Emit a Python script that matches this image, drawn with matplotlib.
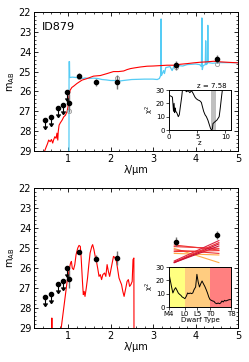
import numpy as np
import matplotlib
matplotlib.use("Agg")
import matplotlib.pyplot as plt

# ---- observed photometry ----
det_wl = [1.02, 1.25, 1.65, 2.15, 3.55, 4.50]
det_mag = [26.57, 25.20, 25.53, 25.52, 24.68, 24.37]
det_err = [0.45, 0.12, 0.18, 0.35, 0.22, 0.20]
ul_wl = [0.45, 0.61, 0.76, 0.88, 0.97]
ul_mag = [27.45, 27.30, 26.82, 26.67, 26.02]
ul_len = 0.45
mod_wl = [1.02, 1.25, 2.15, 3.55, 4.50]
mod_mag = [27.00, 25.28, 25.30, 24.78, 24.62]

# ---- galaxy SEDs (top panel) ----
blue_wl = [1.00, 1.02, 1.025, 1.035, 1.04, 1.10, 1.20, 1.30, 1.35, 1.40, 1.50, 1.60, 1.70, 1.80,
           1.90, 2.00, 2.10, 2.20, 2.30, 2.50, 2.80, 3.00, 3.10, 3.15, 3.18, 3.19, 3.20, 3.25,
           3.27, 3.30, 3.40, 3.45, 3.50, 3.60, 3.70, 3.80, 4.00, 4.10, 4.14, 4.15, 4.16, 4.18,
           4.23, 4.24, 4.25, 4.28, 4.29, 4.30, 4.40, 4.60, 4.80, 5.00]
blue_mag = [35.0, 35.0, 24.50, 24.50, 25.30, 25.28, 25.30, 25.30, 25.35, 25.32, 25.35, 25.33, 25.35, 25.40,
            25.42, 25.45, 25.45, 25.48, 25.45, 25.40, 25.38, 25.38, 25.40, 25.35, 25.20, 22.35, 25.20, 24.95,
            25.10, 24.80, 24.75, 24.95, 24.70, 24.70, 24.72, 24.65, 24.62, 24.65, 24.75, 22.30, 24.90, 24.70,
            24.65, 23.45, 24.65, 24.60, 22.67, 24.55, 24.58, 24.55, 24.55, 24.55]
red_wl = [0.45, 0.49, 0.52, 0.545, 0.58, 0.61, 0.64, 0.66, 0.69, 0.72, 0.74, 0.76, 0.77, 0.79, 0.82,
          0.86, 0.90, 0.94, 0.98, 1.00, 1.02, 1.05, 1.09, 1.13, 1.21, 1.33, 1.45, 1.60, 1.76, 1.92,
          2.07, 2.19, 2.31, 2.39, 2.47, 2.55, 2.70, 2.86, 3.00, 3.17, 3.33, 3.49, 3.65, 3.80, 3.96,
          4.11, 4.27, 4.43, 4.58, 4.74, 5.00]
red_mag = [29.0, 28.78, 28.62, 28.45, 28.53, 28.42, 28.60, 28.45, 28.28, 28.36, 28.10, 28.45, 28.03, 27.70, 27.58,
           27.45, 27.28, 27.20, 27.00, 26.77, 26.27, 25.94, 25.80, 25.74, 25.60, 25.43, 25.35, 25.23, 25.20, 25.10,
           25.00, 25.00, 24.97, 24.90, 24.85, 24.82, 24.77, 24.73, 24.72, 24.70, 24.68, 24.68, 24.63, 24.60, 24.56,
           24.53, 24.51, 24.48, 24.51, 24.53, 24.56]

# ---- brown dwarf template (bottom panel) ----
bd_wl = [0.61, 0.62, 0.63, np.nan,
         0.84, 0.90, 0.94, 0.98, 1.02, 1.06, 1.08, 1.10, 1.13, 1.16, 1.19, 1.23, 1.26, 1.29, 1.31,
         1.34, 1.36, 1.38, 1.40, 1.43, 1.46, 1.49, 1.52, 1.56, 1.58, 1.61, 1.64, 1.67, 1.70, 1.73,
         1.76, 1.79, 1.82, 1.86, 1.89, 1.92, 1.95, 1.98, 2.01, 2.04, 2.07, 2.10, 2.14, 2.17, 2.20,
         2.23, 2.26, 2.29, 2.32, 2.36, 2.39, 2.42, 2.45, 2.48, 2.51, 2.53, 2.55, 2.56]
bd_mag = [40.0, 28.5, 40.0, np.nan,
          29.0, 28.0, 27.33, 26.67, 26.17, 25.75, 25.67, 26.0, 26.08, 25.83, 25.33, 25.0, 24.87, 24.92, 25.5,
          26.67, 27.33, 27.17, 27.42, 27.0, 26.5, 25.83, 25.25, 24.92, 24.83, 25.08, 25.42, 25.67, 26.03, 26.42,
          26.33, 26.58, 26.33, 26.25, 26.42, 25.83, 26.17, 26.42, 26.08, 25.75, 25.42, 25.47, 25.67, 26.08, 26.5,
          26.67, 26.83, 27.17, 27.42, 27.0, 26.67, 26.58, 26.92, 26.83, 26.67, 25.58, 25.5, 40.0]

# ---- brown dwarf IRAC colour lines ----
line_mag1 = [24.85, 24.93, 25.02, 25.10, 25.27, 25.65, 25.70, 25.73, 25.73, 25.18]
line_mag2 = [25.10, 25.02, 25.73, 25.27, 25.35, 24.63, 24.73, 24.80, 24.90, 25.13]
line_col = ['#ee3333', '#ee3333', '#ffaa44', '#ee3333', '#ffaa44',
            '#dd2244', '#ee3333', '#cc1133', '#cc1133', '#ee3333']
irac_wl = [3.50, 4.55]

# ---- chi2 vs redshift ----
chi_z = [0.0, 0.3, 0.6, 0.7, 0.8, 0.9, 1.0, 1.1, 1.2, 1.4, 1.65, 1.83, 2.0, 2.25, 2.4, 2.8, 3.07, 3.4,
         3.7, 4.0, 4.3, 4.6, 4.85, 5.15, 5.44, 5.74, 5.9, 6.15, 6.4, 6.63, 6.9, 7.2, 7.4, 7.58, 7.7,
         7.8, 8.1, 8.5, 8.9, 9.1, 9.35, 9.5]
chi_val = [26.0, 25.5, 24.7, 19.4, 14.0, 20.0, 13.0, 16.5, 14.0, 12.8, 10.0, 11.5, 17.0, 24.7, 30.5, 31.0,
           28.7, 29.5, 28.0, 29.5, 27.3, 24.7, 23.4, 22.5, 22.0, 20.7, 18.0, 14.0, 11.4, 10.0, 7.4, 3.4,
           0.8, 0.2, 0.8, 4.8, 6.0, 7.4, 10.0, 16.6, 26.0, 31.0]
z_best = 7.58
z_band = [7.45, 8.40]

# ---- chi2 vs dwarf type ----
dw_idx = [0, 0.5, 1.0, 1.5, 2.05, 2.56, 3.1, 3.6, 4.1, 4.6, 5.1, 5.6, 6.15, 6.7, 7.2, 7.7, 8.2, 8.7,
          9.2, 9.7, 10.3, 10.8, 11.3, 11.8, 12.3, 12.8, 13.3, 13.85, 14.4, 14.9, 15.4, 15.9, 16.4,
          16.9, 17.4, 17.9, 18.5, 19.0, 19.5, 20.0, 20.5, 21.0, 21.5, 22.0, 22.6, 23.3, 24.0]
dw_chi = [25.0, 20.0, 15.0, 10.5, 13.0, 14.5, 12.5, 10.5, 9.5, 8.75, 7.5, 7.0, 6.25, 8.0, 10.5, 10.0,
          10.5, 10.0, 10.5, 13.0, 15.0, 24.5, 18.75, 15.0, 17.5, 19.5, 17.5, 15.5, 13.0, 10.5, 7.5,
          5.5, 5.0, 4.5, 4.25, 3.0, 2.5, 3.0, 2.5, 3.0, 4.5, 3.75, 5.0, 4.5, 5.0, 5.5, 5.5]
dw_ticks = [0, 6, 11, 16, 24]
dw_labels = ['M4', 'L0', 'L5', 'T0', 'T8']
dw_regions = [(0, 6, '#ffff80'), (6, 16, '#ffcc80'), (16, 24, '#ff8080')]

BLUE = '#55ccf5'
plt.rcParams['font.family'] = 'DejaVu Sans'

fig = plt.figure(figsize=(2.49, 3.62), dpi=100)
W, H = 249.0, 362.0


def fa(x0, y0, x1, y1):
    return [x0 / W, 1 - y1 / H, (x1 - x0) / W, (y1 - y0) / H]


def style_main(ax):
    ax.set_xlim(0.2, 5.0)
    ax.set_ylim(29, 22)
    ax.set_xticks([1, 2, 3, 4, 5])
    ax.set_yticks(range(22, 30))
    ax.xaxis.set_minor_locator(matplotlib.ticker.MultipleLocator(0.2))
    ax.yaxis.set_minor_locator(matplotlib.ticker.MultipleLocator(0.2))
    ax.tick_params(which='both', direction='in', top=True, right=True, labelsize=7, pad=2)
    ax.tick_params(which='major', length=3, width=0.6)
    ax.tick_params(which='minor', length=1.5, width=0.5)
    ax.set_xlabel('λ/µm', fontsize=7, labelpad=1)
    ax.set_ylabel('m$_{\\mathrm{AB}}$', fontsize=7, labelpad=1)
    for s in ax.spines.values():
        s.set_linewidth(0.7)


def draw_phot(ax, model=True):
    ul_end = [m + ul_len for m in ul_mag]
    ax.vlines(ul_wl, ul_mag, ul_end, color='k', lw=0.8, zorder=5)
    ax.plot(ul_wl, ul_end, linestyle='none', marker=7, color='k', ms=3, zorder=5)
    ax.plot(ul_wl, ul_mag, 'o', color='k', ms=3, zorder=6)
    ax.errorbar(det_wl, det_mag, yerr=det_err, fmt='o', color='k', ecolor='0.45',
                ms=3, lw=1.0, capsize=0, zorder=5)
    if model:
        ax.plot(mod_wl, mod_mag, 'o', mfc='none', mec='0.6', ms=3, mew=0.6, zorder=4)


# top panel
ax1 = fig.add_axes(fa(34, 12, 238, 151))
ax1.plot(blue_wl, blue_mag, color=BLUE, lw=0.9, zorder=2)
ax1.plot(red_wl, red_mag, color='red', lw=0.8, zorder=3)
draw_phot(ax1)
style_main(ax1)
ax1.text(0.04, 0.93, 'ID879', transform=ax1.transAxes, fontsize=8, va='top', ha='left')

# top inset
ai = fig.add_axes(fa(169, 90, 231, 130))
ai.axvspan(z_band[0], z_band[1], color='0.75', lw=0)
ai.plot(chi_z, chi_val, color='k', lw=0.7)
ai.set_xlim(0, 11)
ai.set_ylim(0, 30)
ai.set_xticks([0, 5, 10])
ai.set_yticks([0, 10, 20, 30])
ai.tick_params(labelsize=5, length=2, pad=1, width=0.5)
ai.set_xlabel('z', fontsize=5, labelpad=0)
ai.set_ylabel('χ$^2$', fontsize=5, labelpad=0)
ai.text(z_best, 30.5, 'z = %.2f' % z_best, fontsize=5, ha='center', va='bottom')
for s in ai.spines.values():
    s.set_linewidth(0.7)

# bottom panel
ax2 = fig.add_axes(fa(34, 188, 238, 328))
ax2.plot(bd_wl, bd_mag, color='red', lw=0.8, zorder=3)
for m1, m2, c in zip(line_mag1, line_mag2, line_col):
    ax2.plot(irac_wl, [m1, m2], color=c, lw=0.8, zorder=2)
draw_phot(ax2, model=False)
style_main(ax2)

# bottom inset
bi = fig.add_axes(fa(169, 267, 231, 307))
for a, b, c in dw_regions:
    bi.axvspan(a, b, color=c, lw=0)
bi.plot(dw_idx, dw_chi, color='k', lw=0.7)
bi.set_xlim(0, 24)
bi.set_ylim(0, 30)
bi.set_xticks(dw_ticks)
bi.set_xticklabels(dw_labels)
bi.set_yticks([0, 10, 20, 30])
bi.tick_params(labelsize=5, length=2, pad=1, width=0.5)
bi.set_xlabel('Dwarf Type', fontsize=5, labelpad=0)
bi.set_ylabel('χ$^2$', fontsize=5, labelpad=0)
for s in bi.spines.values():
    s.set_linewidth(0.7)

fig.savefig('out.png', dpi=100)
